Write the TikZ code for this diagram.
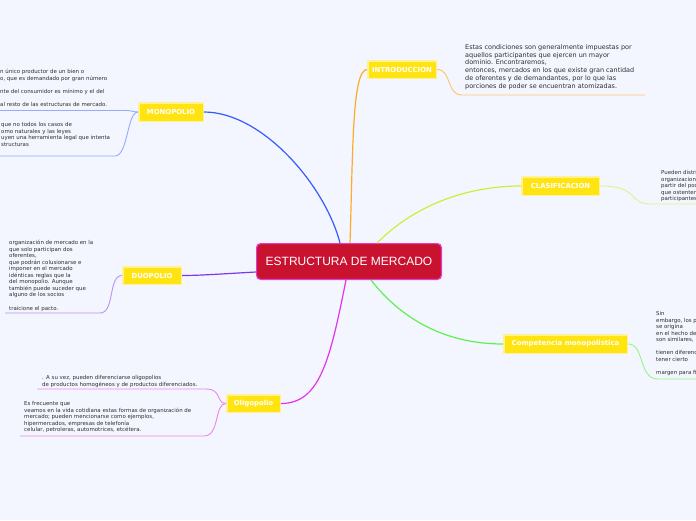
\documentclass[tikz,border=0pt]{standalone}
\usepackage{fontspec}
\setmainfont{DejaVu Sans}
\newfontfamily\titlefont{Liberation Sans}
\definecolor{bg}{RGB}{243,246,254}
\definecolor{ynode}{RGB}{255,228,18}
\definecolor{yborder}{RGB}{255,242,150}
\definecolor{crim}{RGB}{200,18,48}
\definecolor{crimb}{RGB}{225,60,200}
\definecolor{txtgray}{RGB}{45,45,45}
\definecolor{cblue}{RGB}{55,90,255}
\definecolor{cbluel}{RGB}{150,170,255}
\definecolor{corange}{RGB}{255,170,45}
\definecolor{corangel}{RGB}{255,195,110}
\definecolor{cyg}{RGB}{205,240,55}
\definecolor{cygl}{RGB}{215,245,140}
\definecolor{cgreen}{RGB}{95,240,80}
\definecolor{cgreenl}{RGB}{150,245,130}
\definecolor{cmag}{RGB}{230,50,240}
\definecolor{cmagl}{RGB}{240,130,240}
\definecolor{cpur}{RGB}{125,55,235}
\definecolor{cpurl}{RGB}{185,145,245}
\begin{document}
\begin{tikzpicture}[x=1pt,y=-1pt,
  ybox/.style={fill=ynode, draw=yborder, line width=1.5pt, inner sep=0pt,
    text=white, font=\bfseries\fontsize{6.9}{7.5}\selectfont},
  cbox/.style={fill=crim, draw=crimb, line width=1.2pt, rounded corners=4pt,
    inner sep=0pt, text=white, font=\titlefont\fontsize{12}{14}\selectfont,
    minimum width=184.8pt, minimum height=35.8pt},
  txt/.style={anchor=north west, inner sep=0pt, align=left, text=txtgray,
    font=\fontsize{5.45}{6.55}\selectfont},
  txtb/.style={anchor=north west, inner sep=0pt, align=left, text=txtgray,
    font=\fontsize{6.45}{7.8}\selectfont},
  mainc/.style={line width=1.2pt},
  subc/.style={line width=0.9pt}
]
\path[use as bounding box, fill=bg] (0,0) rectangle (696,520);
\clip (0,0) rectangle (696,520);

% central topic
\node[cbox] (c) at (349,261.5) {ESTRUCTURA DE MERCADO};

% main topics
\node[ybox, minimum width=64.5pt, minimum height=18.5pt] (mono) at (171,112) {MONOPOLIO};
\node[ybox, minimum width=68.5pt, minimum height=17.5pt] (intro) at (402,69.5) {INTRODUCCION};
\node[ybox, minimum width=77.5pt, minimum height=18.5pt] (clas) at (560.5,186) {CLASIFICACION};
\node[ybox, minimum width=123.5pt, minimum height=18.5pt] (comp) at (565.5,344) {Competencia monopolistica};
\node[ybox, minimum width=58.5pt, minimum height=17.5pt] (duo) at (152,275.5) {DUOPOLIO};
\node[ybox, minimum width=53.5pt, minimum height=17.5pt] (olig) at (253.5,403.5) {Oligopolio};

% main connectors
\draw[mainc, cblue] ([xshift=84pt]c.north west) .. controls (325,185) and (262,112) .. (mono.east);
\draw[mainc, corange] ([xshift=94pt]c.north west) .. controls (353,150) and (352,70) .. (intro.west);
\draw[mainc, cyg] ([xshift=121pt]c.north west) .. controls (420,200) and (475,186) .. (clas.west);
\draw[mainc, cgreen] ([xshift=115pt]c.south west) .. controls (410,330) and (460,344) .. (comp.west);
\draw[mainc, cmag] ([xshift=90pt]c.south west) .. controls (330,360) and (320,403.5) .. (olig.east);
\draw[mainc, cpur] ([yshift=-10.5pt]c.west) .. controls (220,274) and (200,275.5) .. (duo.east);

% sub-connector ends
\coordinate (m1) at (0,110.5);
\coordinate (m2) at (0,156);
\coordinate (i1) at (645,95);
\coordinate (k1) at (696,204);
\coordinate (p1) at (696,379);
\coordinate (d1) at (5,313);
\coordinate (o1) at (37,389);
\coordinate (o2) at (20,436);

\draw[subc, cbluel] (mono.west) .. controls (133,112) and (132,110.5) .. (126,110.5) -- (m1);
\draw[subc, cbluel] (mono.west) .. controls (127,112) and (128,156) .. (115,156) -- (m2);
\draw[subc, corangel] (intro.east) .. controls (452,69.5) and (446,95) .. (462,95) -- (i1);
\draw[subc, cygl] (clas.east) .. controls (640,186) and (628,204) .. (650,204) -- (k1);
\draw[subc, cgreenl] (comp.east) .. controls (645,344) and (638,379) .. (658,379) -- (p1);
\draw[subc, cpurl] (duo.west) .. controls (108,275.5) and (115,313) .. (100,313) -- (d1);
\draw[subc, cmagl] (olig.west) .. controls (216,403.5) and (222,389) .. (206,389) -- (o1);
\draw[subc, cmagl] (olig.west) .. controls (214,403.5) and (220,436) .. (204,436) -- (o2);

% texts
\node[txt] (tm1) at (0,68.8) {\strut n único productor de un bien o\\
o, que es demandado por gran número\\[6.55pt]
nte del consumidor es mínimo y el del\\[6.55pt]
al resto de las estructuras de mercado.};
\node[txt] (tm2) at (1,121.8) {\strut que no todos los casos de\\
omo naturales y las leyes\\
uyen una herramienta legal que intenta\\
structuras};
\node[txtb] (ti) at (465,43.6) {\strut Estas condiciones son generalmente impuestas por\\
aquellos participantes que ejercen un mayor\\
dominio. Encontraremos,\\
entonces, mercados en los que existe gran cantidad\\
de oferentes y de demandantes, por lo que las\\
porciones de poder se encuentran atomizadas.};
\node[txt] (tk) at (661,169.8) {\strut Pueden distri\\
organizacion\\
partir del pod\\
que ostenten\\
participantes};
\node[txt] (td) at (9,239.8) {\strut organización de mercado en la\\
que solo participan dos\\
oferentes,\\
que podrán colusionarse e\\
imponer en el mercado\\
idénticas reglas que la\\
del monopolio. Aunque\\
también puede suceder que\\
alguno de los socios\\[6.55pt]
traicione el pacto.};
\node[txt] (tp) at (656,310.8) {\strut Sin\\
embargo, los p\\
se origina\\
en el hecho de\\
son similares,\\[6.55pt]
tienen diferenc\\
tener cierto\\[6.55pt]
margen para fi};
\node[txt] (to1) at (42,374.8) {\strut . A su vez, pueden diferenciarse oligopolios\\
de productos homogéneos y de productos diferenciados.};
\node[txt] (to2) at (24,400.8) {\strut Es frecuente que\\
veamos en la vida cotidiana estas formas de organización de\\
mercado; pueden mencionarse como ejemplos,\\
hipermercados, empresas de telefonía\\
celular, petroleras, automotrices, etcétera.};
\end{tikzpicture}
\end{document}
